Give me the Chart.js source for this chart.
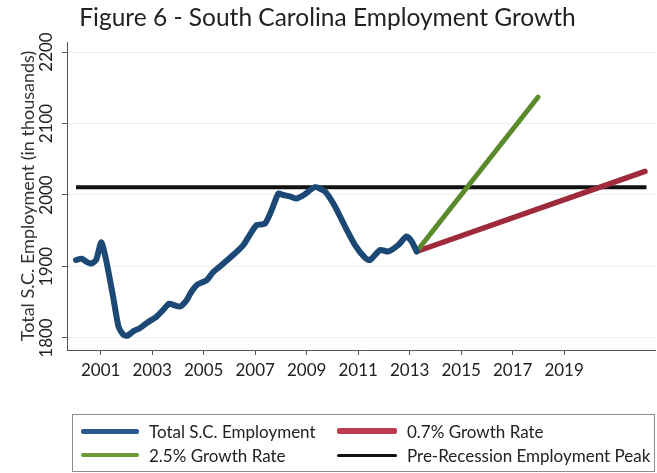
<!DOCTYPE html>
<html>
<head>
<meta charset="utf-8">
<script src="https://cdn.jsdelivr.net/npm/chart.js@4.4.1/dist/chart.umd.min.js"></script>
<style>
  html, body { margin: 0; padding: 0; background: #fff; }
  #wrap { position: relative; width: 657px; height: 473px; }
  #chart { position: absolute; left: 0; top: 0; }
  #legend {
    position: absolute; left: 72px; top: 414px; width: 583px; height: 58px;
    border: 1px solid #8c8c8c; box-sizing: border-box;
    font-family: Lato, sans-serif; font-size: 17px; color: #222;
  }
  .item { position: absolute; display: flex; align-items: center; height: 22px; white-space: nowrap; }
  .swatch { display: inline-block; margin-right: 10px; border-radius: 2px; }
</style>
</head>
<body>
<div id="wrap">
  <canvas id="chart" width="657" height="473"></canvas>
  <div id="legend"></div>
</div>
<script>
// total employment (x in axis years, y in thousands)
const employmentYears = [
  2000.04, 2000.26, 2000.47, 2000.62, 2000.82, 2001.02, 2001.21, 2001.48, 2001.69, 2001.87,
  2002.02, 2002.29, 2002.53, 2002.79, 2003.17, 2003.42, 2003.65, 2003.85, 2004.08, 2004.34,
  2004.51, 2004.73, 2005.12, 2005.36, 2005.63, 2006.14, 2006.54, 2006.80, 2007.06, 2007.38,
  2007.64, 2007.90, 2008.09, 2008.35, 2008.61, 2008.93, 2009.32, 2009.71, 2010.10, 2010.49,
  2010.88, 2011.27, 2011.46, 2011.85, 2012.17, 2012.56, 2012.88, 2013.08, 2013.27
];
const employmentValues = [
  1909, 1911, 1906, 1904, 1909, 1934, 1909, 1858, 1816, 1805,
  1803, 1810, 1814, 1821, 1830, 1839, 1848, 1846, 1844, 1853,
  1864, 1874, 1881, 1892, 1900, 1916, 1930, 1945, 1958, 1960,
  1979, 2002, 2000, 1998, 1995, 2001, 2011, 2005, 1984, 1956,
  1930, 1912, 1909, 1923, 1921, 1930, 1942, 1935, 1921
];
const growth25Years = [2013.27, 2017.99];
const growth25Values = [1921, 2137];
const growth07Years = [2013.27, 2022.14];
const growth07Values = [1921, 2033];
const peakYears = [2000.04, 2022.2];
const peakValues = [2011, 2011];

const xTicks = [2001, 2003, 2005, 2007, 2009, 2011, 2013, 2015, 2017, 2019];
const yTicks = [1800, 1900, 2000, 2100, 2200];

const FONT = 'Lato, sans-serif';
const AXIS = '#555';

function toPoints(xs, ys) {
  return xs.map((x, i) => ({ x, y: ys[i] }));
}

function lineSet(label, xs, ys, color, width, extra = {}) {
  return Object.assign({
    label,
    data: toPoints(xs, ys),
    borderColor: color,
    backgroundColor: color,
    borderWidth: width,
    pointRadius: 0,
    borderCapStyle: 'round',
    borderJoinStyle: 'round',
    fill: false,
  }, extra);
}

const datasets = [
  lineSet('Total S.C. Employment', employmentYears, employmentValues, '#1c4876', 6, { tension: 0.2 }),
  lineSet('2.5% Growth Rate', growth25Years, growth25Values, '#5a8a2b', 5),
  lineSet('0.7% Growth Rate', growth07Years, growth07Values, '#9f2a3b', 5.5),
  lineSet('Pre-Recession Employment Peak', peakYears, peakValues, '#111111', 4, { borderCapStyle: 'butt' }),
];

// legend swatches are a bit lighter than the plotted lines in the original
const legendColors = {
  'Total S.C. Employment': '#2b5a8f',
  '0.7% Growth Rate': '#c03a4d',
  '2.5% Growth Rate': '#6a9a38',
  'Pre-Recession Employment Peak': '#111111',
};

const chart = new Chart(document.getElementById('chart'), {
  type: 'line',
  data: { datasets },
  options: {
    responsive: false,
    devicePixelRatio: 1,
    animation: false,
    layout: { padding: { left: 0, right: 2, top: 0, bottom: 88 } },
    plugins: {
      legend: { display: false },
      tooltip: { enabled: false },
      title: {
        display: true,
        text: 'Figure 6 - South Carolina Employment Growth',
        color: '#222',
        font: { family: FONT, size: 24.5, weight: 'normal', lineHeight: 1.2 },
        padding: { top: 3, bottom: 9.6 },
      },
    },
    scales: {
      x: {
        type: 'linear',
        min: 1999.69,
        max: 2022.53,
        afterBuildTicks: (scale) => { scale.ticks = xTicks.map((v) => ({ value: v })); },
        afterFit: (scale) => { scale.height = 35; },
        ticks: {
          callback: (v) => String(v),
          color: '#222',
          font: { family: FONT, size: 17 },
          padding: 5,
          maxRotation: 0,
          autoSkip: false,
        },
        grid: { drawOnChartArea: false, drawTicks: true, tickLength: 5, tickColor: AXIS },
        border: { display: true, color: AXIS, width: 1 },
      },
      y: {
        type: 'linear',
        min: 1783.2,
        max: 2214,
        afterBuildTicks: (scale) => { scale.ticks = yTicks.map((v) => ({ value: v })); },
        afterFit: (scale) => { scale.width = 67; },
        title: {
          display: true,
          text: 'Total S.C. Employment (in thousands)',
          color: '#333',
          font: { family: FONT, size: 18, weight: 'normal' },
          padding: { top: 17, bottom: 0 },
        },
        ticks: {
          callback: (v) => String(v),
          color: '#222',
          font: { family: FONT, size: 17 },
          minRotation: 90,
          maxRotation: 90,
          crossAlign: 'center',
          padding: -4,
        },
        grid: { color: '#efefef', lineWidth: 1, drawTicks: true, tickLength: 5, tickColor: AXIS },
        border: { display: true, color: AXIS, width: 1 },
      },
    },
  },
});

// legend built from the chart's own datasets, 2 x 2 like the original
const legendOrder = [
  { label: 'Total S.C. Employment', left: 8, top: 16, sw: 58, h: 5 },
  { label: '0.7% Growth Rate', left: 264, top: 16, sw: 60, h: 6 },
  { label: '2.5% Growth Rate', left: 8, top: 40, sw: 58, h: 4 },
  { label: 'Pre-Recession Employment Peak', left: 264, top: 40, sw: 60, h: 3 },
];
const legend = document.getElementById('legend');
legendOrder.forEach((entry) => {
  const ds = chart.data.datasets.find((d) => d.label === entry.label);
  const item = document.createElement('div');
  item.className = 'item';
  item.style.left = entry.left + 'px';
  item.style.top = (entry.top - 11) + 'px';
  item.innerHTML = `<span class="swatch" style="width:${entry.sw}px;height:${entry.h}px;background:${legendColors[ds.label]}"></span><span>${ds.label}</span>`;
  legend.appendChild(item);
});
</script>
</body>
</html>
